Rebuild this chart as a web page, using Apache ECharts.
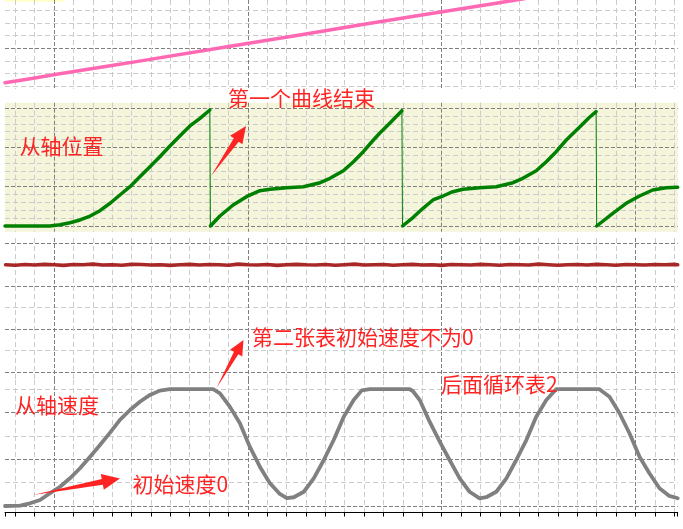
<!DOCTYPE html>
<html><head><meta charset="utf-8">
<script src="https://cdn.jsdelivr.net/npm/echarts@6/dist/echarts.min.js"></script>
<style>html,body{margin:0;padding:0;background:#fff}#c{width:683px;height:529px}</style>
</head><body><div id="c"></div>
<script>
// ---- data (time in ms, values in channel units) ----
const refT = [-25.3, -10.7, 0.5, 31.4, 40.9, 92.5, 126.8, 160, 193.8, 211, 228.2, 245];
const refV = [131.7, 140.5, 147.8, 166.9, 172.5, 205.0, 226.5, 247.5, 268.6, 279.0, 289.5, 300];

const posT = [-25.3,-12.4,-2.1,3.1,8.2,13.4,18.6,23.7,28.9,34.0,39.2,44.3,49.5,54.6,59.8,64.9,70.1,75.3,80.4,
  80.7,85.6,92.4,99.3,106.2,111.5,120.1,128.7,137.3,142.4,149.3,154.5,159.6,164.8,168.0,173.2,179.5,
  179.8,185.2,190.4,195.5,200.7,205.8,211.0,219.6,228.2,236.8,241.9,248.8,254.0,259.1,264.3,271.1,276.3,279.7,
  280.0,288.3,295.2,302.1,308.9,315.8,321.8];
const posV = [0,0,0,3.3,8.4,15.3,25.4,38.9,57.8,78.9,100,125.4,150.9,176.3,203.6,229,254.5,274,295.2,
  0,25.4,53.4,74.6,89.8,93.4,97.5,100,110.2,121.4,140.7,163.6,189.1,218.8,235.9,261.3,293.4,
  0,21.5,45,66.2,76.3,87.3,93.4,97.5,100,110.2,121.4,140.7,163.6,189.1,218.8,251.1,276.6,290.8,
  0,32.3,57.8,76.3,91.6,97.5,98.5];

const errT = [-25,-20,-15,-10,-5,0,5,10,15,20,25,30,35,40,45,50,55,60,65,70,75,80,85,90,95,100,105,110,115,120,
  125,130,135,140,145,150,155,160,165,170,175,180,185,190,195,200,205,210,215,220,225,230,235,240,245,250,255,260,
  265,270,275,280,285,290,295,300,305,310,315,320,321.8];
const errV = [50,49,50.5,49.5,51,50,48.5,50.5,50,51.5, 49.5,50,49,51,50.5,49.5,50,48.5,50,51, 49.5,50.5,50,49,51.5,50,49.5,50.5,48.5,50,
  51,50,49.5,50.5,49,50,51.5,49.5,50,50.5, 49,50,51,49.5,50,48.5,50.5,50,49.5,51, 50,49,50.5,50,49.5,51.5,50,49,50,50.5,
  49.5,51,50,49,50.5,50,49.5,50.5,50,51, 50];

const spdT = [-25.3,-17.5,-12.4,-7.2,-2.1,3.1,8.2,13.4,18.6,23.7,28.9,34.0,39.2,44.3,49.5,54.6,59.8,82.1,85.6,90.7,
  95.9,101.0,106.2,111.3,116.5,120.1,123.7,128.9,134.0,139.2,144.3,149.5,154.6,158.8,162.9,183.5,185.1,188.7,193.8,199.0,
  204.1,209.3,214.4,219.6,223.0,228.2,233.4,238.5,243.7,248.8,254.0,259.1,261.9,281.4,286.6,291.8,296.9,302.1,307.2,312.4,
  317.5,321.8];
const spdV = [0,0.3,2.3,5.1,10.9,16.5,23.7,32.3,42.2,52.2,62.8,73.7,82.2,89.3,95.1,98.8,100,100,96.5,85.1,
  70.8,50.8,33.7,19.7,10.3,6.8,7.5,12.2,23.7,39.4,56.5,76.5,90.8,99,100,100,98.5,90.8,72.2,55.1,
  39.4,23.7,12.2,6.6,7.5,12.2,23.7,39.4,56.5,76.5,90.8,100,100,100,93.6,79.4,62.3,42.2,28,15.2,
  8.6,6.6];

const labels = ['从轴位置','第一个曲线结束','第二张表初始速度不为0','从轴速度','初始速度0','后面循环表2'];

// ---- build ----
const X_MIN = -25.3, X_MAX = 321.8;
const DARK = {color:'#808080', type:[4,2], width:1};
const LIGHT = {color:'#cccccc', type:[5,3], width:1};
const pair = (T, V) => T.map((t, i) => [t, V[i]]);

// split position trace at the wrap-around drops
const posMain = [], posDrop = [];
for (let i = 0; i < posT.length; i++) {
  if (i > 0 && posV[i] < posV[i-1] - 150) {
    posMain.push([posT[i], '-']);
    posDrop.push([posT[i-1], posV[i-1]], [posT[i], posV[i]], [posT[i], '-']);
  }
  posMain.push([posT[i], posV[i]]);
}

const grids = [
  {left:5, right:5.3, top:0, height:89},
  {left:5, right:5.3, top:102.7, height:129, show:true, backgroundColor:'#f5f5dc', borderWidth:0},
  {left:5, right:5.3, top:238, height:142},
  {left:5, right:5.3, top:380, height:132.5}
];
function xAx(gi, bottom) {
  return {type:'value', gridIndex:gi, min:X_MIN, max:X_MAX, minInterval:100, maxInterval:100,
    axisLabel:{show:false},
    axisLine:{show:bottom, onZero:false, lineStyle:{color:'#000', width:1}},
    axisTick:{show:bottom, length:4, lineStyle:{color:'#000'}},
    minorTick:{show:bottom, splitNumber:10, length:4, lineStyle:{color:'#000'}},
    splitLine:{show:true, showMinLine:false, showMaxLine:false, lineStyle:DARK},
    minorSplitLine:{show:true, lineStyle:LIGHT}};
}
function yAx(gi, min, max, step, minor) {
  return {type:'value', gridIndex:gi, min, max, minInterval:step, maxInterval:step,
    axisLabel:{show:false}, axisLine:{show:false}, axisTick:{show:false},
    minorTick:{show:false, splitNumber:minor},
    splitLine:{show:true, showMinLine:false, showMaxLine:false, lineStyle:DARK},
    minorSplitLine:{show:true, lineStyle:LIGHT}};
}
const lineS = (xi, data, color, w, extra) => Object.assign({type:'line', xAxisIndex:xi, yAxisIndex:xi, data,
  showSymbol:false, symbol:'none', lineStyle:{color, width:w, join:'round', cap:'round'}, itemStyle:{color}, animation:false, silent:true}, extra||{});

function arrowPts(x0,y0,x1,y1,hl,hw,sw){
  const dx=x1-x0, dy=y1-y0, L=Math.hypot(dx,dy), ux=dx/L, uy=dy/L, nx=-uy, ny=ux;
  const bx=x1-ux*hl, by=y1-uy*hl;
  return [[x0,y0],[bx+nx*sw/2,by+ny*sw/2],[bx+nx*hw/2,by+ny*hw/2],[x1,y1],[bx-nx*hw/2,by-ny*hw/2],[bx-nx*sw/2,by-ny*sw/2]];
}
const RED = '#ff2424';
const FONT = '21px "Noto Sans CJK SC"';
const txt = (s, x, y) => ({type:'text', x, y, z:100, style:{text:s, fill:RED, font:FONT, verticalAlign:'middle', align:'left'}});
const arr = (p) => ({type:'polygon', z:100, shape:{points:p}, style:{fill:RED}});

const chart = echarts.init(document.getElementById('c'), null, {renderer:'canvas'});
chart.setOption({
  backgroundColor:'#fff',
  animation:false,
  grid: grids,
  xAxis: [xAx(0,false), xAx(1,false), xAx(2,false), xAx(3,true)],
  yAxis: [yAx(0,119.2,295.8,100,4), yAx(1,-14.5,313.7,100,5), yAx(2,-218.6,112.4,100,2), yAx(3,-5.57,107.9,40,2)],
  series: [
    lineS(0, pair(refT, refV), '#ff69b4', 3.5),
    lineS(1, posMain, '#008000', 3.5),
    lineS(1, posDrop, '#008000', 1),
    lineS(2, pair(errT, errV), '#a82828', 3.6),
    lineS(3, pair(spdT, spdV), '#808080', 3.8)
  ],
  graphic: [
    {type:'rect', shape:{x:5, y:0, width:60, height:1.5}, style:{fill:'#ffffc0'}},
    txt(labels[0], 19.5, 146),
    txt(labels[1], 228, 98),
    txt(labels[2], 252, 337.5),
    txt(labels[3], 15, 405.5),
    txt(labels[4], 132.5, 484),
    txt(labels[5], 441, 384),
    arr(arrowPts(211,176,246,126,17,15,6)),
    arr(arrowPts(216.5,388,243.5,340,15,14,5)),
    arr(arrowPts(33,495,120,478.5,18,16,6))
  ]
});
</script></body></html>
